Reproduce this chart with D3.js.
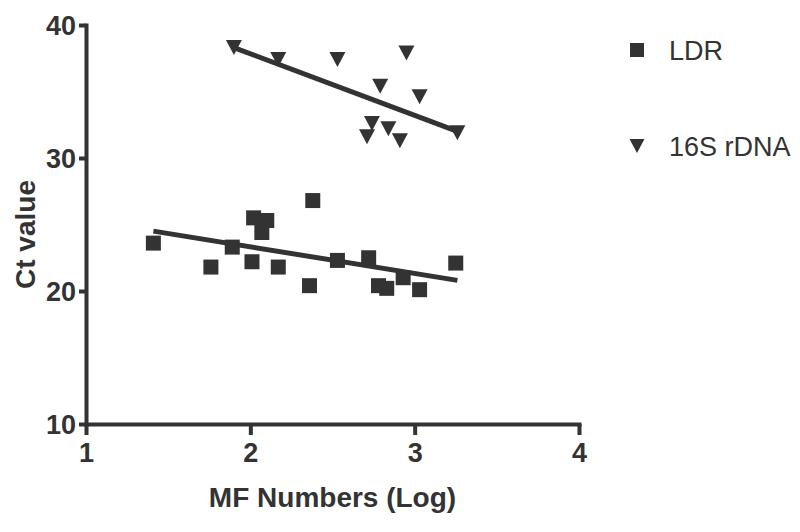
<!DOCTYPE html>
<html>
<head>
<meta charset="utf-8">
<script src="https://cdn.jsdelivr.net/npm/d3@7"></script>
<style>
  body { margin: 0; background: #fff; }
  svg { display: block; }
  .tick text { font-family: "Liberation Sans", Arial, sans-serif; font-weight: bold; font-size: 27px; fill: #333; }
</style>
</head>
<body>
<div id="chart"></div>
<script>
// LDR series (squares)
const ldrX = [1.41, 1.76, 1.89, 2.02, 2.10, 2.07, 2.01, 2.17, 2.38, 2.36, 2.53, 2.72, 2.78, 2.83, 2.93, 3.03, 3.25];
const ldrY = [23.6, 21.8, 23.3, 25.5, 25.3, 24.4, 22.2, 21.8, 26.8, 20.4, 22.3, 22.5, 20.4, 20.2, 21.0, 20.1, 22.1];

// 16S rDNA series (triangles)
const rdnaX = [1.90, 2.17, 2.53, 2.95, 2.79, 3.03, 2.74, 2.71, 2.84, 2.91, 3.26];
const rdnaY = [38.3, 37.4, 37.4, 37.9, 35.4, 34.6, 32.6, 31.6, 32.2, 31.3, 31.9];

// fitted lines (x, y endpoints)
const ldrFitX = [1.41, 3.26];
const ldrFitY = [24.5, 20.8];
const rdnaFitX = [1.90, 3.26];
const rdnaFitY = [38.3, 32.0];

const xTicks = [1, 2, 3, 4];
const yTicks = [10, 20, 30, 40];
const seriesNames = ['LDR', '16S rDNA'];

const width = 800, height = 532;
const ink = '#333';

const svg = d3.select('#chart').append('svg')
  .attr('width', width)
  .attr('height', height);

const x = d3.scaleLinear().domain([1, 4]).range([86, 579]);
const y = d3.scaleLinear().domain([10, 40]).range([424, 25]);

// Axes
const xAxis = svg.append('g')
  .attr('transform', `translate(0, ${y(10)})`)
  .call(d3.axisBottom(x).tickValues(xTicks).tickFormat(d3.format('d'))
    .tickSize(11).tickSizeOuter(0).tickPadding(8));

const yAxis = svg.append('g')
  .attr('transform', `translate(${x(1)}, 0)`)
  .call(d3.axisLeft(y).tickValues(yTicks).tickFormat(d3.format('d'))
    .tickSize(7).tickSizeOuter(0).tickPadding(3));

[xAxis, yAxis].forEach(a => {
  a.select('.domain').attr('stroke', ink).attr('stroke-width', 4).attr('stroke-linecap', 'square');
  a.selectAll('.tick line').attr('stroke', ink).attr('stroke-width', 4);
});
yAxis.selectAll('.tick text').attr('dy', '0.36em');

// Markers
const downTriangle = {
  draw(ctx, size) {
    const h = Math.sqrt(size);
    ctx.moveTo(-h / 2 - 0.5, -h / 2);
    ctx.lineTo(h / 2 + 0.5, -h / 2);
    ctx.lineTo(0, h / 2);
    ctx.closePath();
  }
};
const squareSym = d3.symbol().type(d3.symbolSquare).size(225);
const triSym = d3.symbol().type(downTriangle).size(225);

const line = d3.line().x(d => x(d[0])).y(d => y(d[1]));

// fit lines
svg.append('path')
  .datum(d3.zip(ldrFitX, ldrFitY))
  .attr('d', line)
  .attr('fill', 'none').attr('stroke', ink).attr('stroke-width', 5);

svg.append('path')
  .datum(d3.zip(rdnaFitX, rdnaFitY))
  .attr('d', line)
  .attr('fill', 'none').attr('stroke', ink).attr('stroke-width', 5);

// points
svg.append('g').selectAll('path')
  .data(d3.zip(ldrX, ldrY))
  .enter().append('path')
  .attr('d', squareSym)
  .attr('transform', d => `translate(${x(d[0])},${y(d[1])})`)
  .attr('fill', ink);

svg.append('g').selectAll('path')
  .data(d3.zip(rdnaX, rdnaY))
  .enter().append('path')
  .attr('d', triSym)
  .attr('transform', d => `translate(${x(d[0])},${y(d[1])})`)
  .attr('fill', ink);

// axis titles
svg.append('text')
  .attr('x', (x(1) + x(4)) / 2)
  .attr('y', 507)
  .attr('text-anchor', 'middle')
  .style('font-family', '"Liberation Sans", Arial, sans-serif')
  .style('font-weight', 'bold')
  .style('font-size', '28px')
  .attr('fill', ink)
  .text('MF Numbers (Log)');

svg.append('text')
  .attr('transform', `translate(35, ${(y(10) + y(40)) / 2 + 10}) rotate(-90)`)
  .attr('text-anchor', 'middle')
  .style('font-family', '"Liberation Sans", Arial, sans-serif')
  .style('font-weight', 'bold')
  .style('font-size', '28px')
  .attr('fill', ink)
  .text('Ct value');

// legend
const legend = svg.append('g').attr('transform', 'translate(637, 50)');
const legendItems = legend.selectAll('g')
  .data(seriesNames)
  .enter().append('g')
  .attr('transform', (d, i) => `translate(0, ${i * 96})`);

legendItems.append('path')
  .attr('d', (d, i) => i === 0 ? d3.symbol().type(d3.symbolSquare).size(196)() : d3.symbol().type(downTriangle).size(196)())
  .attr('fill', ink);

legendItems.append('text')
  .attr('x', 32)
  .attr('y', 10)
  .style('font-family', '"Liberation Sans", Arial, sans-serif')
  .style('font-size', '27px')
  .attr('fill', ink)
  .text(d => d);
</script>
</body>
</html>
